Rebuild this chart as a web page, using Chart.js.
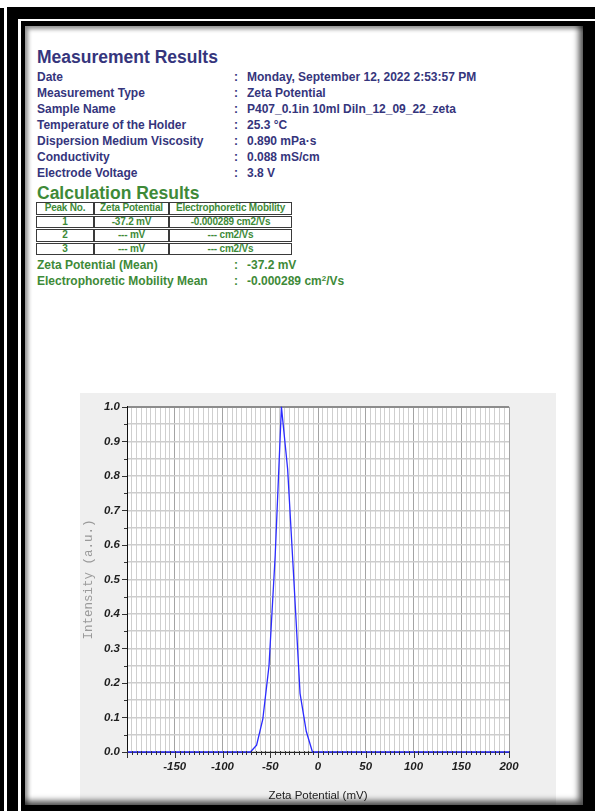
<!DOCTYPE html>
<html>
<head>
<meta charset="utf-8">
<script src="https://cdn.jsdelivr.net/npm/chart.js@4/dist/chart.umd.min.js"></script>
<style>
  html, body { margin: 0; padding: 0; background: #fff; }
  body { width: 595px; height: 811px; position: relative; overflow: hidden;
         font-family: "Liberation Sans", Arial, sans-serif; }
  .abs { position: absolute; }
  .navy { color: #35357c; }
  .green { color: #3e8a38; }
  .head { font-weight: bold; font-size: 17.5px; line-height: 20px; white-space: nowrap; }
  .rows { font-weight: bold; font-size: 12px; line-height: 16px; white-space: nowrap; }
  table.peaks { position: absolute; left: 36px; top: 201px; border-collapse: separate;
                border-spacing: 0 1px; font-weight: bold; font-size: 10px; color: #3e8a38; }
  table.peaks td { border: 1px solid #3a3a3a; padding: 0; line-height: 10.5px; height: 10.5px;
                   text-align: center; white-space: nowrap; letter-spacing: -0.2px; }
  sup { font-size: 8px; line-height: 0; vertical-align: 4px; }
</style>
</head>
<body>
<!-- page frame -->
<div class="abs" style="left:0;top:8px;width:4px;height:803px;background:#000"></div>
<div class="abs" style="left:7px;top:7px;width:588px;height:804px;background:#000"></div>
<div class="abs" style="left:18px;top:19px;width:577px;height:792px;border-left:3px solid #fff;border-top:2px solid #fff;box-sizing:border-box"></div>
<div class="abs" style="left:25px;top:26px;width:558px;height:779px;background:#fff"></div>

<!-- measurement block -->
<div class="abs head navy" style="left:37px;top:47px">Measurement Results</div>
<div class="abs rows navy" style="left:37px;top:69px">
  Date<br>Measurement Type<br>Sample Name<br>Temperature of the Holder<br>Dispersion Medium Viscosity<br>Conductivity<br>Electrode Voltage
</div>
<div class="abs rows navy" style="left:234px;top:69px">:<br>:<br>:<br>:<br>:<br>:<br>:</div>
<div class="abs rows navy" style="left:247px;top:69px">
  Monday, September 12, 2022 2:53:57 PM<br>Zeta Potential<br>P407_0.1in 10ml Diln_12_09_22_zeta<br>25.3 °C<br>0.890 mPa·s<br>0.088 mS/cm<br>3.8 V
</div>

<!-- calculation block -->
<div class="abs head green" style="left:37px;top:183px">Calculation Results</div>
<table class="peaks">
  <tr><td style="width:56px">Peak No.</td><td style="width:73px">Zeta Potential</td><td style="width:121px">Electrophoretic Mobility</td></tr>
  <tr><td>1</td><td>-37.2 mV</td><td>-0.000289 cm2/Vs</td></tr>
  <tr><td>2</td><td>--- mV</td><td>--- cm2/Vs</td></tr>
  <tr><td>3</td><td>--- mV</td><td>--- cm2/Vs</td></tr>
</table>
<div class="abs rows green" style="left:37px;top:257px">Zeta Potential (Mean)<br>Electrophoretic Mobility Mean</div>
<div class="abs rows green" style="left:234px;top:257px">:<br>:</div>
<div class="abs rows green" style="left:247px;top:257px">-37.2 mV<br>-0.000289 cm<sup>2</sup>/Vs</div>

<!-- distribution chart -->
<div class="abs" style="left:80px;top:393px;width:476px;height:412px;background:#efefef">
  <canvas id="zeta" width="476" height="412"></canvas>
</div>

<!-- inner shading of the page edge -->
<div class="abs" style="left:25px;top:26px;width:558px;height:779px;pointer-events:none;
     box-shadow: inset 4px 4px 4px -1px rgba(0,0,0,0.45), inset -6px -6px 6px -2px rgba(0,0,0,0.7)"></div>

<script>
// Zeta potential distribution (mV) and relative intensity (a.u.)
const zetaPotential = [-200, -70.8, -64.3, -57.8, -51.3, -44.8, -38.3, -31.8, -25.3, -18.8, -12.3, -5.8, 0.7, 200];
const intensity     = [0, 0, 0.02, 0.095, 0.25, 0.57, 1.0, 0.82, 0.5, 0.17, 0.06, 0, 0, 0];

// axis ranges and labelling
const xRange = [-200, 200];
const xMinorStep = 5;
const xMajorStep = 50;
const yRange = [0, 1];
const yMinorStep = 0.05;
const yMajorStep = 0.1;

const points = zetaPotential.map((x, i) => ({ x, y: intensity[i] }));

const isMultiple = (v, step) => Math.abs(Math.round(v / step) * step - v) < 1e-6;

// white plot area plus the small tick marks along both axes
const axisMarks = {
  id: 'axisMarks',
  beforeDraw(chart) {
    const { ctx, chartArea: a } = chart;
    ctx.save();
    ctx.fillStyle = '#ffffff';
    ctx.fillRect(a.left, a.top, a.right - a.left, a.bottom - a.top);
    ctx.restore();
  },
  afterDatasetsDraw(chart) {
    const { ctx, chartArea: a, scales } = chart;
    ctx.save();
    ctx.strokeStyle = '#333';
    ctx.lineWidth = 1;
    ctx.beginPath();
    scales.x.ticks.forEach(t => {
      const px = Math.round(scales.x.getPixelForValue(t.value)) + 0.5;
      const len = isMultiple(t.value, xMajorStep) ? 6 : 3;
      ctx.moveTo(px, a.bottom - 1);
      ctx.lineTo(px, a.bottom + len);
    });
    scales.y.ticks.forEach(t => {
      const py = Math.round(scales.y.getPixelForValue(t.value)) + 0.5;
      const len = isMultiple(t.value, yMajorStep) ? 5 : 3;
      ctx.moveTo(a.left, py);
      ctx.lineTo(a.left - len, py);
    });
    ctx.stroke();
    ctx.restore();
  }
};

const tickFont = { family: '"Liberation Sans", Arial, sans-serif', size: 11.5, weight: 'bold', style: 'italic' };

new Chart(document.getElementById('zeta'), {
  type: 'line',
  data: {
    datasets: [{
      data: points,
      borderColor: '#2b2bff',
      borderWidth: 1.3,
      pointRadius: 0,
      tension: 0,
      clip: false
    }]
  },
  plugins: [axisMarks],
  options: {
    responsive: false,
    animation: false,
    events: [],
    layout: { padding: { left: 0, right: 47, top: 12, bottom: 0 } },
    plugins: { legend: { display: false }, tooltip: { enabled: false } },
    scales: {
      x: {
        type: 'linear',
        min: xRange[0],
        max: xRange[1],
        afterFit(scale) { scale.height = 53; },
        grid: {
          drawTicks: false,
          lineWidth: 1,
          color: c => isMultiple(c.tick.value, xMajorStep) ? '#a4a4a4' : '#cfcfcf'
        },
        border: { display: true, color: '#222', width: 1 },
        ticks: {
          stepSize: xMinorStep,
          autoSkip: false,
          maxRotation: 0,
          minRotation: 0,
          padding: 8,
          color: '#1e1e1e',
          font: tickFont,
          callback: v => (isMultiple(v, xMajorStep) && v !== xRange[0]) ? String(v) : ''
        },
        title: {
          display: true,
          text: 'Zeta Potential (mV)',
          color: '#222',
          font: { family: '"Liberation Sans", Arial, sans-serif', size: 11.5 },
          padding: { top: 0, bottom: 2 }
        }
      },
      y: {
        type: 'linear',
        min: yRange[0],
        max: yRange[1],
        afterFit(scale) { scale.width = 47; },
        grid: {
          drawTicks: false,
          lineWidth: c => c.tick.value === yRange[1] ? 2 : 1.6,
          color: c => c.tick.value === yRange[1] ? '#8c8c8c' : '#cdcdcd'
        },
        border: { display: true, color: '#111', width: 1 },
        ticks: {
          stepSize: yMinorStep,
          autoSkip: false,
          padding: 7,
          color: '#1e1e1e',
          font: tickFont,
          callback: v => isMultiple(v, yMajorStep) ? v.toFixed(1) : ''
        },
        title: {
          display: true,
          text: 'Intensity (a.u.)',
          color: '#9a9a9a',
          font: { family: '"Liberation Mono", "DejaVu Sans Mono", monospace', size: 12.5 },
          padding: { top: 1, bottom: 0 }
        }
      }
    }
  }
});
</script>
</body>
</html>
